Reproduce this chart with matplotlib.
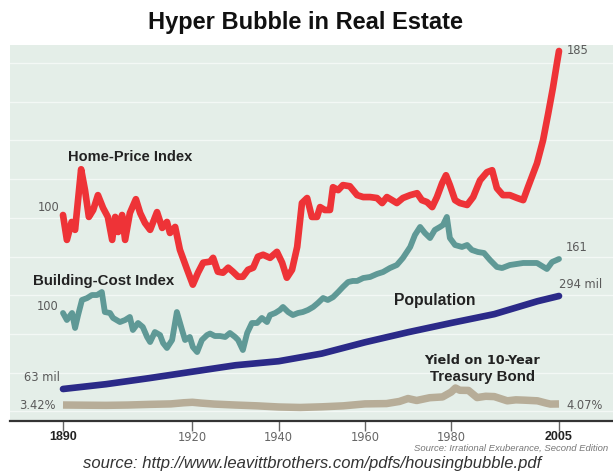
import matplotlib
matplotlib.use("Agg")
import matplotlib.pyplot as plt
import numpy as np

# ---------------- data ----------------
home_years = [1890.0, 1890.9, 1892.0, 1892.8, 1894.2, 1895.1, 1896.0, 1897.0, 1898.1, 1899.3,
              1900.4, 1901.4, 1902.1, 1902.8, 1903.7, 1904.4, 1905.5, 1906.9, 1907.9, 1909.0,
              1910.2, 1911.8, 1913.0, 1914.1, 1914.8, 1916.0, 1917.1, 1918.8, 1920.1, 1921.3,
              1922.5, 1924.1, 1924.8, 1925.9, 1927.1, 1928.3, 1929.4, 1930.6, 1931.7, 1932.9,
              1934.1, 1935.2, 1936.4, 1938.0, 1939.6, 1940.8, 1941.9, 1943.1, 1944.3, 1945.4,
              1946.6, 1947.7, 1948.9, 1949.6, 1950.7, 1951.9, 1952.6, 1953.8, 1954.9, 1956.5,
              1958.2, 1959.6, 1961.2, 1962.8, 1964.0, 1965.1, 1966.3, 1967.4, 1968.8, 1970.5,
              1972.1, 1973.2, 1974.4, 1975.6, 1976.7, 1977.9, 1978.8, 1979.7, 1980.9, 1982.0,
              1983.7, 1985.1, 1986.7, 1988.3, 1989.5, 1990.6, 1992.0, 1993.6, 1995.3, 1996.7,
              1997.8, 1999.9, 2001.3, 2002.5, 2003.6, 2004.5, 2005.0]
home_index = [100.0, 87.1, 96.4, 92.3, 123.7, 112.9, 99.0, 102.6, 110.3, 103.6,
              99.0, 87.1, 99.0, 91.2, 100.0, 87.1, 101.0, 108.2, 101.0, 95.9,
              92.3, 101.5, 93.3, 96.4, 90.7, 93.8, 82.0, 71.6, 63.9, 70.1,
              75.3, 75.8, 77.8, 70.6, 70.1, 72.7, 70.6, 68.0, 68.0, 71.6,
              72.7, 78.4, 79.4, 77.8, 80.9, 75.3, 67.5, 71.6, 83.5, 106.2,
              108.8, 99.0, 99.0, 104.1, 102.6, 102.6, 114.4, 112.9, 115.5, 114.9,
              110.3, 109.3, 109.3, 108.8, 106.2, 109.3, 107.7, 106.2, 108.8, 110.3,
              111.3, 107.7, 106.7, 104.1, 109.3, 116.5, 120.6, 115.5, 107.7, 106.2,
              105.2, 109.3, 118.0, 122.2, 123.2, 113.9, 110.3, 110.3, 108.8, 107.7,
              114.4, 126.8, 138.7, 152.6, 166.0, 178.4, 185.0]

cost_years = [1890.0, 1890.9, 1892.1, 1892.8, 1893.5, 1894.4, 1895.6, 1896.7, 1897.9, 1899.0,
              1899.7, 1900.9, 1901.6, 1903.2, 1904.4, 1905.5, 1906.2, 1907.4, 1908.5, 1909.5,
              1910.2, 1911.3, 1912.5, 1913.2, 1914.1, 1915.3, 1916.4, 1917.6, 1918.3, 1919.4,
              1920.1, 1921.1, 1922.2, 1923.4, 1924.1, 1925.2, 1926.4, 1927.6, 1928.7, 1929.9,
              1930.6, 1931.7, 1932.7, 1933.8, 1935.0, 1936.1, 1937.3, 1938.0, 1939.2, 1940.3,
              1941.0, 1942.2, 1943.3, 1944.5, 1945.6, 1946.8, 1948.0, 1949.1, 1950.3, 1951.4,
              1952.6, 1953.8, 1954.9, 1956.1, 1957.2, 1958.2, 1959.6, 1961.2, 1962.8, 1964.2,
              1965.8, 1967.4, 1968.8, 1970.5, 1971.6, 1972.8, 1973.9, 1975.1, 1976.2, 1977.4,
              1978.1, 1979.0, 1979.7, 1980.9, 1982.5, 1983.7, 1984.8, 1986.2, 1987.6, 1989.0,
              1990.6, 1991.8, 1993.6, 1996.7, 1999.9, 2002.2, 2003.4, 2005.0]
cost_index = [100.0, 92.1, 100.0, 83.1, 97.7, 114.7, 116.9, 120.3, 120.3, 123.7,
              101.1, 100.0, 94.4, 89.8, 92.1, 95.5, 80.8, 88.7, 84.2, 72.9,
              67.2, 78.5, 75.1, 66.1, 60.5, 69.5, 101.1, 80.8, 69.5, 72.9,
              61.6, 55.9, 69.5, 75.1, 76.8, 74.0, 74.0, 72.9, 77.4, 72.9,
              69.5, 58.2, 77.4, 88.7, 88.7, 94.4, 89.8, 97.7, 100.0, 103.4,
              106.8, 101.1, 97.7, 100.0, 101.1, 103.4, 106.8, 111.3, 116.9, 114.7,
              117.9, 123.7, 129.4, 135.0, 136.2, 136.2, 139.5, 140.7, 144.1, 146.3,
              150.8, 154.2, 162.1, 174.6, 188.1, 197.2, 190.4, 184.7, 193.8, 197.2,
              199.4, 208.5, 184.7, 176.8, 174.6, 176.8, 171.2, 168.9, 167.8, 159.9,
              152.0, 150.8, 154.2, 156.5, 156.5, 149.7, 157.6, 161.0]

pop_years = [1890, 1900, 1910, 1920, 1930, 1940, 1950, 1960, 1970, 1980, 1990, 2000, 2005]
population = [63, 75, 90, 106, 122, 132, 151, 179, 204, 227, 249, 281, 294]  # millions

yield_years = [1890, 1895, 1900, 1905, 1910, 1915, 1918, 1920, 1922, 1925, 1930, 1935, 1940,
               1945, 1950, 1955, 1960, 1965, 1968, 1970, 1972, 1975, 1978, 1980, 1981, 1982,
               1984, 1986, 1988, 1990, 1993, 1995, 1997, 2000, 2002, 2003, 2005]
bond_yield = [3.42, 3.3, 3.2, 3.4, 3.8, 4.1, 4.8, 5.1, 4.6, 4.0, 3.4, 2.9, 2.2,
              1.9, 2.3, 2.9, 4.1, 4.3, 5.6, 7.4, 6.2, 7.9, 8.4, 11.4, 13.9, 12.5,
              12.4, 8.0, 8.8, 8.6, 6.0, 6.6, 6.4, 6.0, 4.6, 4.0, 4.07]

tick_years = [1890, 1920, 1940, 1960, 1980, 2005]
tick_labels = ["1890", "1920", "1940", "1960", "1980", "2005"]

# ---------------- figure / layout ----------------
W, H = 613, 473
fig = plt.figure(figsize=(W / 100, H / 100), dpi=100)
fig.patch.set_facecolor("white")

PANEL_L, PANEL_R, PANEL_T, PANEL_B = 10, 613, 45, 421


def fx(x):
    return x / W


def fy(y):
    return 1 - y / H


def frac(y):
    return (PANEL_B - y) / (PANEL_B - PANEL_T)


ax = fig.add_axes([fx(PANEL_L), fy(PANEL_B), fx(PANEL_R - PANEL_L), (PANEL_B - PANEL_T) / H])
ax.set_facecolor("#e4eee8")
# x scale: 1890 at px 63, 4.313 px per year
x0 = 1890 + (PANEL_L - 63) / 4.313
x1 = 1890 + (PANEL_R - 63) / 4.313
ax.set_xlim(x0, x1)
ax.set_ylim(0, 1)
for s in ["top", "right", "left"]:
    ax.spines[s].set_visible(False)
ax.spines["bottom"].set_color("#333333")
ax.spines["bottom"].set_linewidth(1.6)
ax.set_yticks([])
ax.set_xticks(tick_years)
ax.set_xticklabels([])
ax.tick_params(axis="x", length=7, width=1, color="#666666", direction="out")

# faint white horizontal grid lines
for gy in np.arange(63, 412, 38.7):
    ax.axhline(frac(gy), color="#f3f8f5", lw=1.0, zorder=0.5)


def overlay(v_a, y_a, v_b, y_b):
    a = ax.twinx()
    fa, fb = frac(y_a), frac(y_b)
    span = (v_b - v_a) / (fb - fa)
    lo = v_a - fa * span
    a.set_ylim(lo, lo + span)
    a.set_xlim(x0, x1)
    a.axis("off")
    return a


ax_yield = overlay(3.42, 405, 13.9, 388)
ax_pop = overlay(63, 389, 294, 296)
ax_cost = overlay(100, 313, 161, 259)
ax_home = overlay(100, 215, 185, 51)

ax_yield.plot(yield_years, bond_yield, color="#b7ad98", lw=5.4, solid_capstyle="butt", solid_joinstyle="round")
ax_pop.plot(pop_years, population, color="#2b2a88", lw=4.8, solid_capstyle="round")
ax_cost.plot(cost_years, cost_index, color="#5f9996", lw=4.2, solid_capstyle="round", solid_joinstyle="round")
ax_home.plot(home_years, home_index, color="#ee3337", lw=4.8, solid_capstyle="round", solid_joinstyle="round")

# ---------------- text ----------------
SANS = ["Liberation Sans", "DejaVu Sans"]
DV = ["DejaVu Sans"]
fig.text(fx(305), fy(22), "Hyper Bubble in Real Estate", ha="center", va="center",
         fontsize=17, fontweight="bold", family=SANS, color="#111111")


def lab(x, y, s, ha="left", size=9.5, bold=True, color="#222222", style="normal", family=SANS):
    fig.text(fx(x), fy(y), s, ha=ha, va="center", fontsize=size,
             fontweight="bold" if bold else "normal", family=family, color=color, style=style)


lab(68, 157, "Home-Price Index", size=10.5)
lab(33, 281, "Building-Cost Index", size=10.8)
lab(394, 300, "Population", size=11.3)
lab(482, 360, "Yield on 10-Year", ha="center", size=9.2, family=DV)
lab(482, 377, "Treasury Bond", ha="center", size=10.8)

grey = "#5a5a5a"
lab(60, 207, "100", ha="right", size=8.3, bold=False, color=grey, family=DV)
lab(59, 306, "100", ha="right", size=8.3, bold=False, color=grey, family=DV)
lab(567, 50, "185", size=8.3, bold=False, color=grey, family=DV)
lab(566, 247, "161", size=8.3, bold=False, color=grey, family=DV)
lab(559, 284, "294 mil", size=8.3, bold=False, color=grey, family=DV)
lab(60, 377, "63 mil", ha="right", size=8.3, bold=False, color=grey, family=DV)
lab(56, 405, "3.42%", ha="right", size=8.3, bold=False, color=grey, family=DV)
lab(566, 405, "4.07%", size=8.3, bold=False, color=grey, family=DV)

for yr, t in zip(tick_years, tick_labels):
    xp = 63 + (yr - 1890) * 4.313
    if t in ("1890", "2005"):
        lab(xp, 437, t, ha="center", size=9, bold=True, color="#222222")
    else:
        lab(xp, 437, t, ha="center", size=8.3, bold=False, color="#666666", family=DV)

lab(414, 448, "Source: Irrational Exuberance, Second Edition", size=6.8, bold=False, color="#777777",
    style="italic")
lab(312, 463, "source: http://www.leavittbrothers.com/pdfs/housingbubble.pdf", ha="center",
    size=12, bold=False, color="#333333", style="italic")

fig.savefig("out.png", dpi=100, facecolor="white")
